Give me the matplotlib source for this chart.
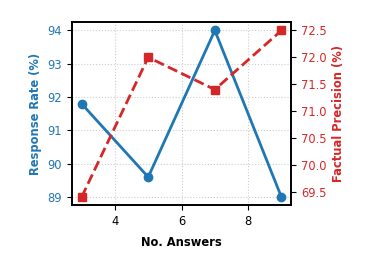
import matplotlib
matplotlib.use("Agg")
import matplotlib.pyplot as plt

# Data
num_answers = [3, 5, 7, 9]
response_rate = [91.8, 89.6, 94.0, 89.0]
factual_precision = [69.4, 72.0, 71.4, 72.5]

blue = '#1f77b4'
red = '#d62728'

fig, ax1 = plt.subplots(figsize=(3.77, 2.6), dpi=100)
ax1.plot(num_answers, response_rate, color=blue, marker='o', linewidth=2, markersize=6)
ax1.set_xlabel('No. Answers', fontsize=8.3, fontweight='bold', labelpad=6)
ax1.set_ylabel('Response Rate (%)', fontsize=8.3, fontweight='bold', color=blue)
ax1.tick_params(axis='y', labelcolor=blue, labelsize=8.3)
ax1.tick_params(axis='x', labelsize=8.3)
ax1.set_xticks([4, 6, 8])
ax1.grid(True, linestyle=':', color='#cccccc', linewidth=0.8)

ax2 = ax1.twinx()
ax2.plot(num_answers, factual_precision, color=red, marker='s', linestyle='--',
         linewidth=2, markersize=6)
ax2.set_ylabel('Factual Precision (%)', fontsize=8.3, fontweight='bold', color=red)
ax2.tick_params(axis='y', labelcolor=red, labelsize=8.3)

for a in (ax1, ax2):
    for s in a.spines.values():
        s.set_linewidth(1.2)

fig.subplots_adjust(left=0.19, right=0.773, top=0.915, bottom=0.21)
fig.savefig('out.png', dpi=100)
